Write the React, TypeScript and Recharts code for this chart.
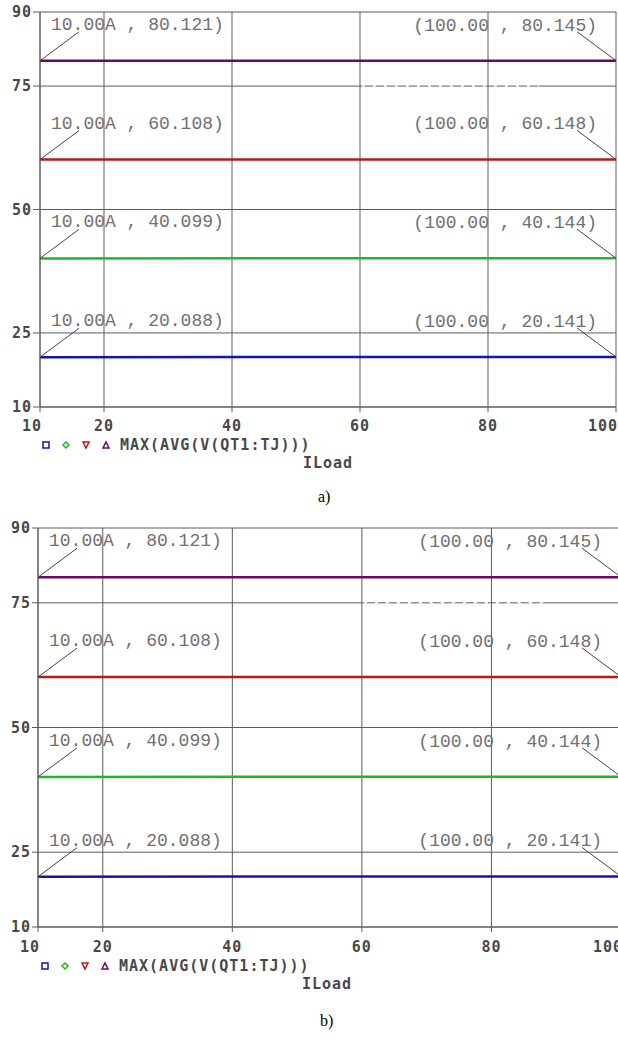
import { CartesianGrid, Legend, Line, LineChart, ReferenceLine, XAxis, YAxis } from 'recharts';

// ILoad sweep end points and the junction temperature of each trace
const ILOAD = [10, 100];
const TJ_20 = [20.088, 20.141];
const TJ_40 = [40.099, 40.144];
const TJ_60 = [60.108, 60.148];
const TJ_80 = [80.121, 80.145];

const X_TICKS = [10, 20, 40, 60, 80, 100];
const Y_TICKS = [10, 25, 50, 75, 90];
const TRACE_NAME = 'MAX(AVG(V(QT1:TJ)))';
const X_TITLE = 'ILoad';

const rows = ILOAD.map((x, i) => ({
  iload: x,
  t20: TJ_20[i],
  t40: TJ_40[i],
  t60: TJ_60[i],
  t80: TJ_80[i],
}));

const SERIES = [
  { key: 't20', color: '#1414a8', marker: 'square' },
  { key: 't40', color: '#22b822', marker: 'diamond' },
  { key: 't60', color: '#b01c1c', marker: 'down' },
  { key: 't80', color: '#660a66', marker: 'up' },
];

const GRID = '#5c5c5c';
const monoBold = {
  fontFamily: '"DejaVu Sans Mono", monospace',
  fontWeight: 700,
  fontSize: 15,
  letterSpacing: '1px',
  fill: '#484848',
  color: '#484848',
};

function Marker({ kind, x, y, color }: { kind: string; x: number; y: number; color: string }) {
  const s = 3;
  const common = { fill: 'none', stroke: color, strokeWidth: 1.5 };
  if (kind === 'square') return <rect x={x - s} y={y - s} width={s * 2} height={s * 2} {...common} />;
  if (kind === 'diamond')
    return <polygon points={`${x},${y - s} ${x + s},${y} ${x},${y + s} ${x - s},${y}`} {...common} />;
  if (kind === 'down')
    return <polygon points={`${x - s},${y - s} ${x + s},${y - s} ${x},${y + s}`} {...common} />;
  return <polygon points={`${x - s},${y + s} ${x + s},${y + s} ${x},${y - s}`} {...common} />;
}

function PlotLegend({ dx }: { dx: number }) {
  return (
    <div style={{ position: 'relative', height: 36, width: '100%' }}>
      <svg width={130} height={18} style={{ position: 'absolute', left: 0, top: 0 }}>
        {SERIES.map((s, i) => (
          <Marker key={s.key} kind={s.marker} x={46 + dx + i * 20} y={9} color={s.color} />
        ))}
      </svg>
      <span style={{ ...monoBold, position: 'absolute', left: 120 + dx, top: 0, lineHeight: '18px' }}>
        {TRACE_NAME}
      </span>
      <span style={{ ...monoBold, position: 'absolute', left: 303 + dx, top: 18, lineHeight: '18px' }}>
        {X_TITLE}
      </span>
    </div>
  );
}

// cursor read-outs at both ends of every trace
function Callout(props: any) {
  const { cx, cy, index, payload, dataKey } = props;
  if (cx == null || cy == null) return <g />;
  const textStyle = { fontFamily: '"Liberation Mono", monospace', fontSize: 18, fill: '#707070' };
  const v = payload[dataKey] as number;
  if (index === 0) {
    return (
      <g>
        <line x1={cx} y1={cy} x2={cx + 39} y2={cy - 29} stroke="#444" strokeWidth={1} />
        <text x={cx + 11} y={cy - 31} style={textStyle}>
          {`${payload.iload.toFixed(2)}A , ${v.toFixed(3)})`}
        </text>
      </g>
    );
  }
  return (
    <g>
      <line x1={cx} y1={cy} x2={cx - 39} y2={cy - 29} stroke="#444" strokeWidth={1} />
      <text x={cx - 19} y={cy - 30} textAnchor="end" style={textStyle}>
        {`(${payload.iload.toFixed(2)} , ${v.toFixed(3)})`}
      </text>
    </g>
  );
}

type PlotProps = {
  width: number;
  height: number;
  yAxisW: number;
  yTickSize: number;
  xAxisH: number;
  xLabelDy: number;
  legendDx: number;
};

function TjPlot({ width, height, yAxisW, yTickSize, xAxisH, xLabelDy, legendDx }: PlotProps) {
  const XTick = ({ x, y, payload }: any) => {
    const v = payload.value;
    const anchor = v === 100 ? 'end' : 'middle';
    const tx = v === 10 ? x - 8 : v === 100 ? x + 2 : x;
    return (
      <text x={tx} y={y + xLabelDy} textAnchor={anchor} style={monoBold}>
        {v}
      </text>
    );
  };
  const YTick = ({ x, y, payload }: any) => (
    <text x={x + 1} y={y + 5} textAnchor="end" style={monoBold}>
      {payload.value}
    </text>
  );

  return (
    <LineChart width={width} height={height} data={rows} margin={{ top: 12, right: 2, bottom: 8, left: 0 }}>
      <CartesianGrid stroke={GRID} strokeWidth={1} />
      <XAxis
        dataKey="iload"
        type="number"
        domain={[10, 100]}
        ticks={X_TICKS}
        interval={0}
        height={xAxisH}
        tickSize={5}
        stroke={GRID}
        tick={<XTick />}
      />
      <YAxis
        type="number"
        domain={[10, 90]}
        ticks={Y_TICKS}
        interval={0}
        width={yAxisW}
        tickSize={yTickSize}
        tickMargin={2}
        stroke={GRID}
        tick={<YTick />}
      />
      {/* broken stretch of the 75 grid line, as in the probe screen dump */}
      <ReferenceLine
        segment={[
          { x: 60.3, y: 75 },
          { x: 88, y: 75 },
        ]}
        stroke="#fff"
        strokeWidth={1.5}
        strokeDasharray="3 8"
      />
      <Legend verticalAlign="bottom" content={() => <PlotLegend dx={legendDx} />} />
      {SERIES.map((s) => (
        <Line
          key={s.key}
          type="linear"
          dataKey={s.key}
          stroke={s.color}
          strokeWidth={2.5}
          dot={(p: any) => <Callout key={`${s.key}-${p.index}`} {...p} dataKey={s.key} />}
          activeDot={false}
          isAnimationActive={false}
        />
      ))}
    </LineChart>
  );
}

const caption = {
  position: 'absolute' as const,
  fontFamily: '"Liberation Serif", serif',
  fontSize: 16,
  color: '#000',
  lineHeight: '18px',
};

export default function App() {
  return (
    <div style={{ position: 'absolute', left: 0, top: 0, width: 618, height: 1042, overflow: 'hidden', background: '#fff' }}>
      <div style={{ position: 'absolute', left: 0, top: 0 }}>
        <TjPlot width={618} height={480} yAxisW={40} yTickSize={7} xAxisH={29} xLabelDy={17} legendDx={0} />
      </div>
      <div style={{ ...caption, left: 318, top: 488 }}>a)</div>
      <div style={{ position: 'absolute', left: 0, top: 516 }}>
        <TjPlot width={623} height={485} yAxisW={38} yTickSize={6} xAxisH={30} xLabelDy={18} legendDx={-1} />
      </div>
      <div style={{ ...caption, left: 320, top: 1012 }}>b)</div>
    </div>
  );
}
